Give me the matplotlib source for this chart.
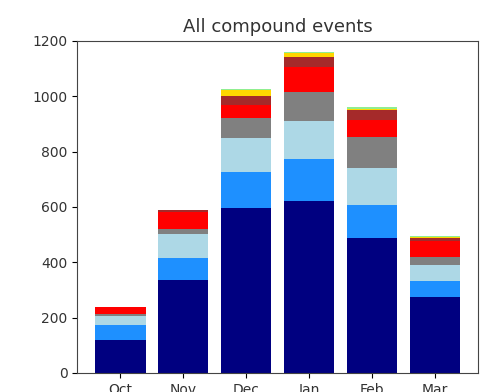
import matplotlib
matplotlib.use("Agg")
import matplotlib.pyplot as plt
import numpy as np

# months on the x axis
months = ["Oct", "Nov", "Dec", "Jan", "Feb", "Mar"]

# stacked event counts, bottom layer first
navy_vals = [119, 336, 595, 622, 489, 274]
dodger_vals = [54, 81, 132, 151, 116, 60]
lightblue_vals = [33, 84, 123, 138, 135, 56]
gray_vals = [7, 18, 70, 103, 114, 30]
red_vals = [24, 62, 49, 93, 60, 55]
brown_vals = [3, 8, 30, 36, 36, 12]
yellow_vals = [0, 0, 24, 12, 4, 6]
green_vals = [0, 1, 1, 3, 5, 3]

layers = [navy_vals, dodger_vals, lightblue_vals, gray_vals,
          red_vals, brown_vals, yellow_vals, green_vals]
colors = ["navy", "dodgerblue", "lightblue", "gray",
          "red", "brown", "gold", "lightgreen"]

fig = plt.figure(figsize=(4.85, 3.92), dpi=100)
ax = fig.add_axes([0.159, 0.0485, 0.8266, 0.8475])

x = np.arange(len(months))
bottom = np.zeros(len(months))
for vals, c in zip(layers, colors):
    ax.bar(x, vals, bottom=bottom, color=c, width=0.8)
    bottom += np.array(vals)

ax.set_ylim(0, 1200)
ax.set_xticks(x)
ax.set_xticklabels(months, color="#333333")
ax.tick_params(axis="y", labelcolor="#333333")
for s in ax.spines.values():
    s.set_color("#444444")
ax.set_title("All compound events", fontsize=13, color="#333333")

fig.savefig("out.png", dpi=100)
